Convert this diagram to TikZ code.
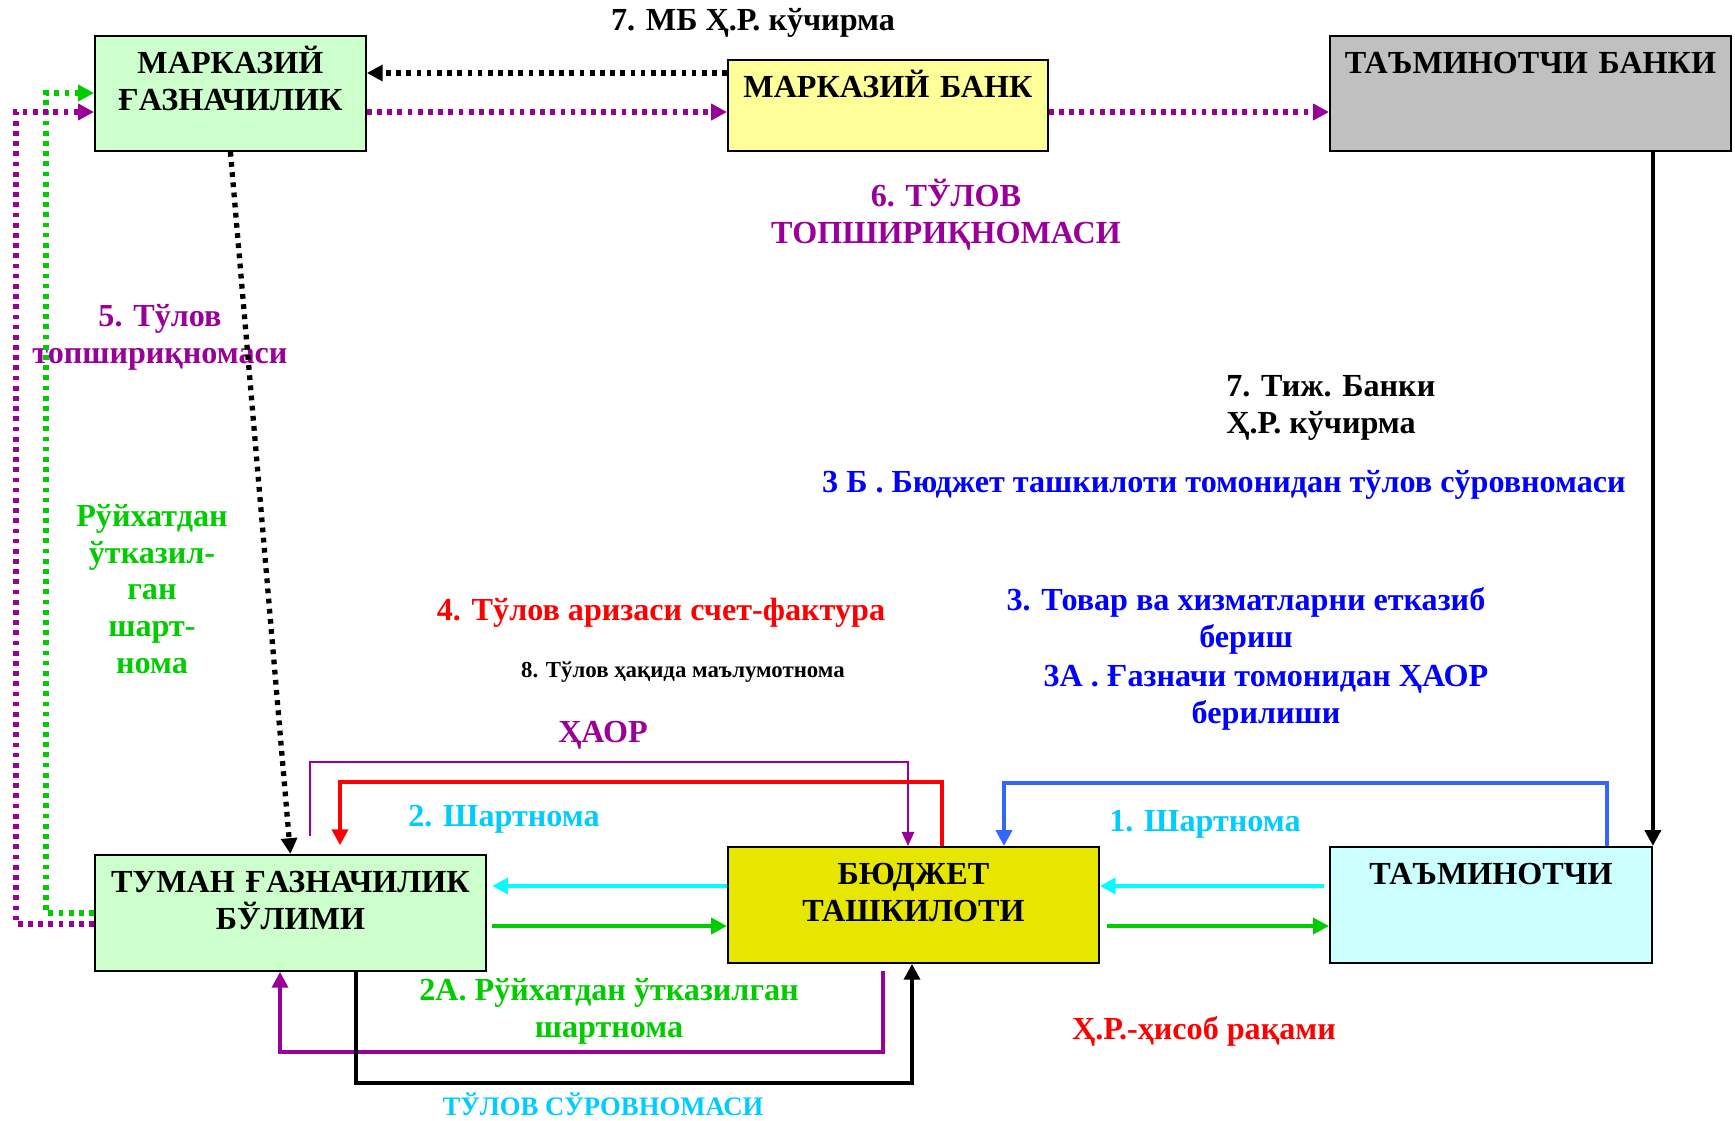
\documentclass[tikz,border=0pt]{standalone}
\usepackage{fontspec}
\setmainfont{Liberation Serif}
\usetikzlibrary{arrows.meta}

\definecolor{treasurygreen}{HTML}{CCFFCC}
\definecolor{bankyellow}{HTML}{FFFF99}
\definecolor{bankgray}{HTML}{C0C0C0}
\definecolor{budgetyellow}{HTML}{E6E600}
\definecolor{supplierblue}{HTML}{CCFFFF}
\definecolor{lpurple}{HTML}{990099}
\definecolor{lgreen}{HTML}{00CC00}
\definecolor{lcyan}{HTML}{00FFFF}
\definecolor{tcyan}{HTML}{00CCFF}
\definecolor{lblue}{HTML}{3366FF}
\definecolor{tblue}{HTML}{0000FF}

\begin{document}
\begin{tikzpicture}[x=0.02cm, y=0.02cm,
    font=\bfseries\fontsize{18.3}{21}\selectfont]
    \tikzstyle{rec} = [rectangle, draw=black, line width=1.1pt,
        anchor=north west]
    \tikzstyle{head} = [anchor=base, align=center, inner sep=0pt,
        text width=8cm, yshift=-22pt]
    \tikzstyle{txt} = [align=center, inner sep=0pt]
    \tikzstyle{arrow} = [-{Triangle[length=9pt,width=9pt]},
        line width=2.7pt]
    \tikzstyle{dotarrow} = [-{Triangle[length=9pt,width=9pt]},
        line width=3pt, dash pattern=on 2.7pt off 3.1pt]

    \useasboundingbox (0,0) rectangle (1735,-1120);

    % boxes
    \node(centraltreasury) [rec, fill=treasurygreen, minimum width=5.42cm,
        minimum height=2.3cm, label={[head]north:{МАРКАЗИЙ\\ҒАЗНАЧИЛИК}}]
        at (94,-35) {};
    \node(centralbank) [rec, fill=bankyellow, minimum width=6.4cm,
        minimum height=1.82cm, label={[head]north:{МАРКАЗИЙ БАНК}}]
        at (727,-59) {};
    \node(supplierbank) [rec, fill=bankgray, minimum width=8.02cm,
        minimum height=2.3cm, label={[head]north:{ТАЪМИНОТЧИ БАНКИ}}]
        at (1329,-35) {};
    \node(districttreasury) [rec, fill=treasurygreen, minimum width=7.82cm,
        minimum height=2.32cm,
        label={[head]north:{ТУМАН ҒАЗНАЧИЛИК\\БЎЛИМИ}}]
        at (94,-854) {};
    \node(budget) [rec, fill=budgetyellow, minimum width=7.42cm,
        minimum height=2.32cm, label={[head]north:{БЮДЖЕТ\\ТАШКИЛОТИ}}]
        at (727,-846) {};
    \node(supplier) [rec, fill=supplierblue, minimum width=6.44cm,
        minimum height=2.32cm, label={[head]north:{ТАЪМИНОТЧИ}}]
        at (1329,-846) {};

    % labels
    \node(mbstatement) [txt] at (753,-23) {7. МБ Ҳ.Р. кўчирма};
    \node(payorder6) [txt, lpurple] at (946,-215)
        {6. ТЎЛОВ\\ТОПШИРИҚНОМАСИ};
    \node(payorder5) [txt, lpurple] at (160,-337)
        {5. Тўлов\\топшириқномаси};
    \node(registered) [txt, lgreen] at (152,-589)
        {Рўйхатдан\\ўтказил-\\ган\\шарт-\\нома};
    \node(cbstatement) [txt, align=left, anchor=west] at (1226,-408)
        {7. Тиж. Банки\\Ҳ.Р. кўчирма};
    \node(request3b) [txt, tblue] at (1224,-485)
        {3 Б . Бюджет ташкилоти томонидан тўлов сўровномаси};
    \node(invoice) [txt, red] at (661,-613)
        {4. Тўлов аризаси счет-фактура};
    \node(reference) [txt, font=\bfseries\fontsize{13}{15}\selectfont]
        at (683,-672) {8. Тўлов ҳақида маълумотнома};
    \node(delivery) [txt, tblue] at (1246,-621)
        {3. Товар ва хизматларни етказиб\\бериш};
    \node(issue3a) [txt, tblue] at (1266,-698)
        {3А . Ғазначи томонидан ҲАОР\\берилиши};
    \node(haor) [txt, lpurple] at (603,-735) {ҲАОР};
    \node(contract2) [txt, tcyan] at (504,-819) {2. Шартнома};
    \node(contract1) [txt, tcyan] at (1205,-824) {1. Шартнома};
    \node(contract2a) [txt, lgreen] at (609,-1011)
        {2А. Рўйхатдан ўтказилган\\шартнома};
    \node(payrequest) [txt, tcyan, anchor=base,
        font=\bfseries\fontsize{15.2}{18}\selectfont]
        at (603,-1115) {ТЎЛОВ СЎРОВНОМАСИ};
    \node(account) [txt, red] at (1204,-1031) {Ҳ.Р.-ҳисоб рақами};

    % top row
    \draw[dotarrow, black] (centralbank.west |- 0,-73)
        -- (centraltreasury.east |- 0,-73);
    \draw[dotarrow, lpurple] (centraltreasury.east |- 0,-112)
        -- (centralbank.west |- 0,-112);
    \draw[dotarrow, lpurple] (centralbank.east |- 0,-112)
        -- (supplierbank.west |- 0,-112);
    \draw[arrow, black, line width=2.3pt] (supplierbank.south -| supplier.east)
        -- (supplier.north east);
    \draw[dotarrow, black] (centraltreasury.south) -- (districttreasury.north);

    % left loops
    \draw[dotarrow, lgreen] (districttreasury.west |- 0,-913) -| (46,-93)
        -- (centraltreasury.west |- 0,-93);
    \draw[dotarrow, lpurple] (districttreasury.west |- 0,-924) -| (16,-112)
        -- (centraltreasury.west |- 0,-112);

    % upper brackets
    \draw[-{Triangle[length=8pt,width=7pt]}, lpurple, line width=1pt,
        shorten <=10.5pt] (districttreasury.north -| 310,0) |- (908,-762)
        -- (budget.north -| 908,0);
    \draw[arrow, red, shorten >=5pt] (budget.north -| 942,0) |- (340,-782)
        -- (districttreasury.north -| 340,0);
    \draw[arrow, lblue] (supplier.north -| 1607,0) |- (1004,-783)
        -- (budget.north -| 1004,0);

    % middle arrows
    \draw[arrow, lcyan, shorten >=3pt] (budget.west |- 0,-886)
        -- (districttreasury.east |- 0,-886);
    \draw[arrow, lcyan, shorten <=3pt] (supplier.west |- 0,-886)
        -- (budget.east |- 0,-886);
    \draw[arrow, lgreen, shorten <=3pt] (districttreasury.east |- 0,-926)
        -- (budget.west |- 0,-926);
    \draw[arrow, lgreen, shorten <=4pt] (budget.east |- 0,-926)
        -- (supplier.west |- 0,-926);

    % lower brackets
    \draw[arrow, lpurple, shorten <=4pt] (budget.south -| 883,0)
        |- (280,-1052) -- (districttreasury.south -| 280,0);
    \draw[arrow, black, line width=2.3pt] (districttreasury.south -| 356,0)
        |- (912,-1083) -- (budget.south -| 912,0);
\end{tikzpicture}
\end{document}
